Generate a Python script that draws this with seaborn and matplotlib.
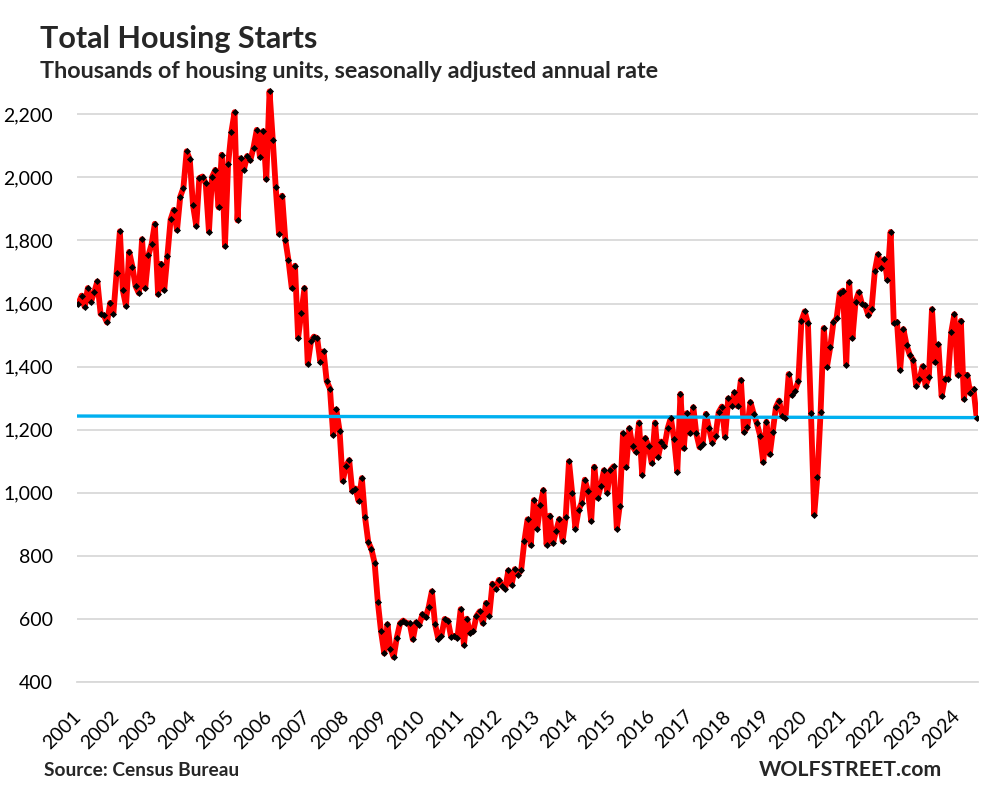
import pandas as pd
import seaborn as sns
import matplotlib
matplotlib.use('Agg')
import matplotlib.pyplot as plt
from matplotlib.ticker import FuncFormatter

# monthly housing starts, thousands, SAAR
starts_2001 = [1600, 1625, 1590, 1649, 1605, 1636, 1670, 1567, 1562, 1540, 1602, 1568]
starts_2002 = [1698, 1829, 1642, 1592, 1764, 1717, 1655, 1633, 1804, 1648, 1753, 1788]
starts_2003 = [1853, 1629, 1726, 1643, 1751, 1867, 1897, 1833, 1939, 1967, 2083, 2057]
starts_2004 = [1911, 1846, 1998, 2003, 1981, 1828, 2002, 2024, 1905, 2072, 1782, 2042]
starts_2005 = [2144, 2207, 1864, 2061, 2025, 2068, 2054, 2095, 2151, 2065, 2147, 1994]
starts_2006 = [2273, 2119, 1969, 1821, 1942, 1802, 1737, 1650, 1720, 1491, 1570, 1649]
starts_2007 = [1409, 1480, 1495, 1490, 1415, 1448, 1354, 1330, 1183, 1264, 1197, 1037]
starts_2008 = [1084, 1103, 1005, 1013, 973, 1046, 923, 844, 820, 777, 652, 560]
starts_2009 = [490, 582, 505, 478, 540, 585, 594, 586, 585, 534, 588, 581]
starts_2010 = [614, 604, 636, 687, 583, 536, 546, 599, 594, 543, 545, 539]
starts_2011 = [630, 517, 600, 554, 561, 608, 623, 585, 650, 610, 711, 694]
starts_2012 = [723, 704, 695, 753, 708, 757, 740, 754, 847, 915, 833, 976]
starts_2013 = [886, 961, 1008, 835, 927, 839, 879, 916, 846, 924, 1099, 1000]
starts_2014 = [886, 944, 967, 1041, 1005, 910, 1082, 983, 1021, 1071, 1000, 1071]
starts_2015 = [1083, 886, 959, 1188, 1080, 1204, 1147, 1130, 1222, 1057, 1173, 1147]
starts_2016 = [1093, 1222, 1112, 1162, 1147, 1204, 1237, 1170, 1067, 1313, 1140, 1252]
starts_2017 = [1188, 1271, 1188, 1144, 1155, 1250, 1204, 1159, 1181, 1255, 1273, 1176]
starts_2018 = [1299, 1276, 1318, 1274, 1357, 1192, 1207, 1287, 1250, 1220, 1181, 1096]
starts_2019 = [1225, 1121, 1192, 1271, 1292, 1244, 1237, 1376, 1309, 1324, 1353, 1545]
starts_2020 = [1575, 1537, 1252, 930, 1050, 1255, 1522, 1400, 1461, 1540, 1553, 1633]
starts_2021 = [1641, 1406, 1667, 1490, 1606, 1636, 1599, 1594, 1562, 1583, 1703, 1756]
starts_2022 = [1713, 1740, 1676, 1827, 1538, 1541, 1390, 1519, 1467, 1437, 1421, 1339]
starts_2023 = [1359, 1401, 1339, 1366, 1582, 1413, 1470, 1306, 1362, 1362, 1509, 1566]
starts_2024 = [1374, 1545, 1297, 1374, 1315, 1328, 1238]

values = (starts_2001 + starts_2002 + starts_2003 + starts_2004 + starts_2005
          + starts_2006 + starts_2007 + starts_2008 + starts_2009 + starts_2010
          + starts_2011 + starts_2012 + starts_2013 + starts_2014 + starts_2015
          + starts_2016 + starts_2017 + starts_2018 + starts_2019 + starts_2020
          + starts_2021 + starts_2022 + starts_2023 + starts_2024)

dates = pd.date_range("2001-01-01", periods=len(values), freq="MS")
df = pd.DataFrame({"date": dates, "starts": values})

# blue reference line at the latest level
x_start = pd.Timestamp("2000-12-16")
x_end = pd.Timestamp("2024-07-14")
ref = pd.DataFrame({"date": [x_start, dates[-1]], "level": [1243, 1238]})

years = list(range(2001, 2025))
year_ticks = [pd.Timestamp(f"{y}-01-01") for y in years]

sns.set_style("white")
plt.rcParams['font.family'] = ['Lato', 'DejaVu Sans']

fig = plt.figure(figsize=(9.89, 7.94), dpi=100)
ax = fig.add_axes([0.0776, 0.1414, 0.9113, 0.7542])

sns.lineplot(data=df, x="date", y="starts", color="#ff0000", linewidth=4.2, ax=ax, zorder=3)
sns.lineplot(data=ref, x="date", y="level", color="#00b0f0", linewidth=2.4, ax=ax, zorder=4)
sns.scatterplot(data=df, x="date", y="starts", color="black", marker="D", s=13,
                linewidth=0, ax=ax, zorder=5)

ax.set_xlim(x_start, x_end)
ax.set_ylim(400, 2300)
ax.set_yticks(range(400, 2201, 200))
ax.yaxis.set_major_formatter(FuncFormatter(lambda v, p: f"{v:,.0f}"))
ax.set_xticks(year_ticks)
ax.set_xticklabels([str(y) for y in years], rotation=45, ha="right",
                   va="center", rotation_mode="anchor")
ax.set_xlabel("")
ax.set_ylabel("")

ax.grid(axis="y", color="#d9d9d9", linewidth=1.3)
ax.set_axisbelow(True)
for s in ["top", "right", "left"]:
    ax.spines[s].set_visible(False)
ax.spines["bottom"].set_color("#d9d9d9")
ax.spines["bottom"].set_linewidth(1.3)
ax.tick_params(axis="x", direction="out", length=5, width=1.3, color="#d9d9d9",
               pad=18, labelsize=14, labelcolor="black")
ax.tick_params(axis="y", length=0, pad=17, labelsize=14, labelcolor="black")

fig.text(0.0404, 0.9395, "Total Housing Starts", fontsize=22, fontweight="bold",
         va="baseline", ha="left")
fig.text(0.0404, 0.9018, "Thousands of housing units, seasonally adjusted annual rate",
         fontsize=16.8, fontweight="bold", va="baseline", ha="left")
fig.text(0.0445, 0.0227, "Source: Census Bureau", fontsize=13.8, fontweight="bold",
         va="baseline", ha="left")
fig.text(0.9525, 0.0227, "WOLFSTREET.com", fontsize=15.3, fontweight="bold",
         va="baseline", ha="right")

plt.savefig("out.png", dpi=100)
plt.close()
